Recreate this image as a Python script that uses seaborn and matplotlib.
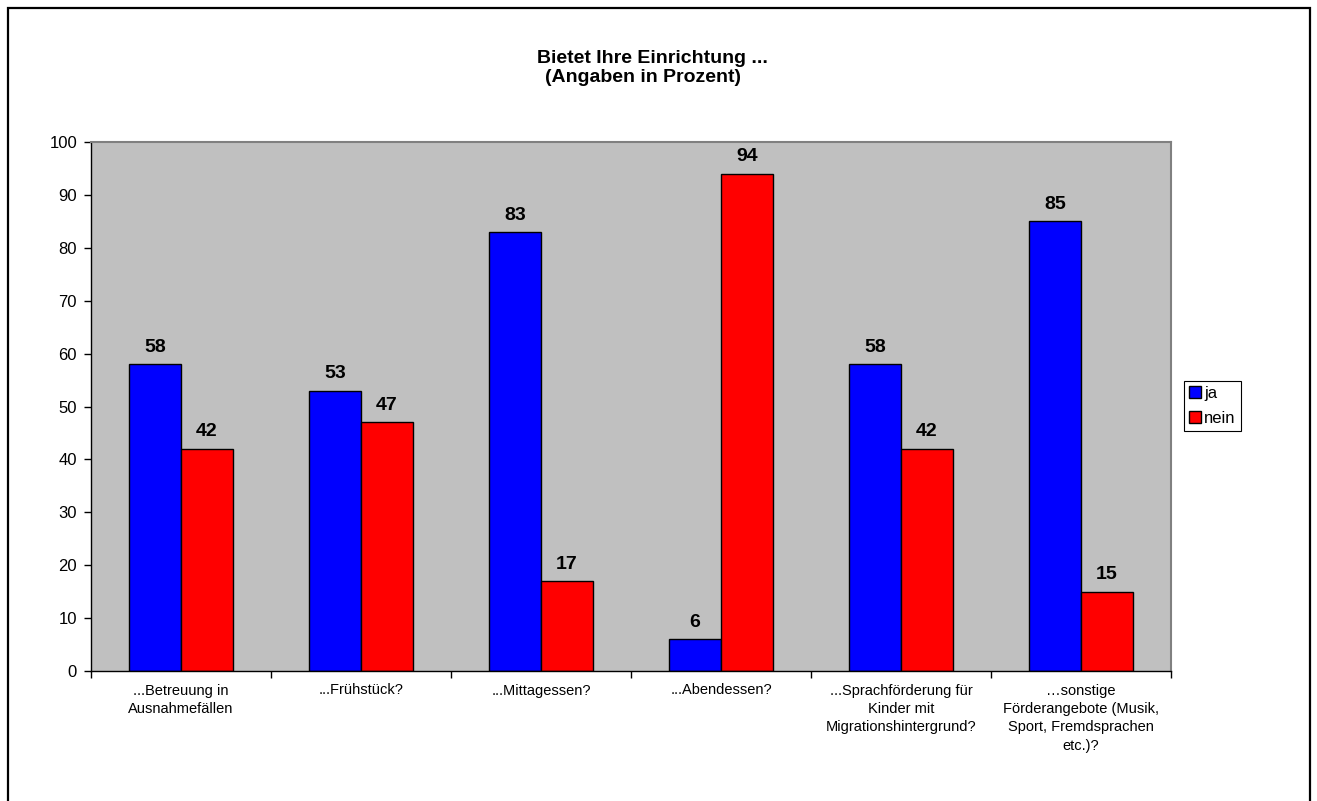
import matplotlib
matplotlib.use("Agg")
import matplotlib.pyplot as plt
import matplotlib.patches as mpatches
import seaborn as sns
import pandas as pd

categories = [
    "...Betreuung in\nAusnahmefällen",
    "...Frühstück?",
    "...Mittagessen?",
    "...Abendessen?",
    "...Sprachförderung für\nKinder mit\nMigrationshintergrund?",
    "…sonstige\nFörderangebote (Musik,\nSport, Fremdsprachen\netc.)?",
]
ja_values = [58, 53, 83, 6, 58, 85]
nein_values = [42, 47, 17, 94, 42, 15]
series_names = ["ja", "nein"]
y_ticks = [0, 10, 20, 30, 40, 50, 60, 70, 80, 90, 100]
title_line1 = "Bietet Ihre Einrichtung ..."
title_line2 = "(Angaben in Prozent)"

df = pd.DataFrame({
    "Kategorie": categories * 2,
    "Antwort": [series_names[0]] * len(categories) + [series_names[1]] * len(categories),
    "Prozent": ja_values + nein_values,
})

sns.set_theme(style="white")
plt.rcParams["font.family"] = ["Liberation Sans", "DejaVu Sans"]
plt.rcParams["text.color"] = "black"
plt.rcParams["axes.labelcolor"] = "black"
plt.rcParams["xtick.color"] = "black"
plt.rcParams["ytick.color"] = "black"

fig = plt.figure(figsize=(13.17, 8.01), dpi=100)
ax = fig.add_axes([91 / 1317, 1 - 671 / 801, 1080 / 1317, 529 / 801])
ax.set_facecolor("#C0C0C0")

sns.barplot(data=df, x="Kategorie", y="Prozent", hue="Antwort",
            palette={"ja": "#0000FF", "nein": "#FF0000"},
            width=0.578, edgecolor="black", linewidth=1.0,
            saturation=1, errorbar=None, ax=ax, legend=True)

for cont in ax.containers:
    ax.bar_label(cont, padding=6, fontsize=14, fontweight="bold", color="black")

ax.set_ylim(0, 100)
ax.set_xlim(-0.5, len(categories) - 0.5)
ax.set_yticks(y_ticks)
ax.tick_params(axis="y", length=5, width=1, direction="out", labelsize=12, pad=5,
               colors="black", left=True)

ax.set_xticks([i - 0.5 for i in range(len(categories) + 1)])
ax.set_xticklabels([""] * (len(categories) + 1))
ax.tick_params(axis="x", which="major", length=5, width=1, direction="out", bottom=True,
               colors="black")
ax.set_xticks(range(len(categories)), minor=True)
ax.set_xticklabels(categories, minor=True, fontsize=10.5, linespacing=1.4, color="black")
ax.tick_params(axis="x", which="minor", length=0, pad=9)

ax.set_xlabel("")
ax.set_ylabel("")
ax.grid(False)

for s in ["left", "bottom"]:
    ax.spines[s].set_color("black")
    ax.spines[s].set_linewidth(1.0)
for s in ["top", "right"]:
    ax.spines[s].set_color("#808080")
    ax.spines[s].set_linewidth(1.5)

handles, labels = ax.get_legend_handles_labels()
leg = ax.legend(handles, labels, loc="upper left",
                bbox_to_anchor=(1184 / 1317, 1 - 381 / 801), bbox_transform=fig.transFigure,
                fontsize=12, frameon=True, fancybox=False, framealpha=1,
                edgecolor="black", borderpad=0.3, handlelength=0.7, handleheight=0.7,
                handletextpad=0.2, labelspacing=0.6, borderaxespad=0, title=None)
leg.get_frame().set_linewidth(0.8)
for t in leg.get_texts():
    t.set_color("black")

fig.text(652 / 1317, 1 - 63 / 801, title_line1, ha="center", va="baseline",
         fontsize=14, fontweight="bold", color="black")
fig.text(643 / 1317, 1 - 82 / 801, title_line2, ha="center", va="baseline",
         fontsize=14, fontweight="bold", color="black")

frame = mpatches.Rectangle((8 / 1317, -0.05), (1310 - 8) / 1317, (1 - 8 / 801) + 0.05,
                           transform=fig.transFigure, fill=False, edgecolor="black",
                           linewidth=1.6, clip_on=False)
fig.patches.append(frame)

fig.savefig("out.png", dpi=100, facecolor="white")
